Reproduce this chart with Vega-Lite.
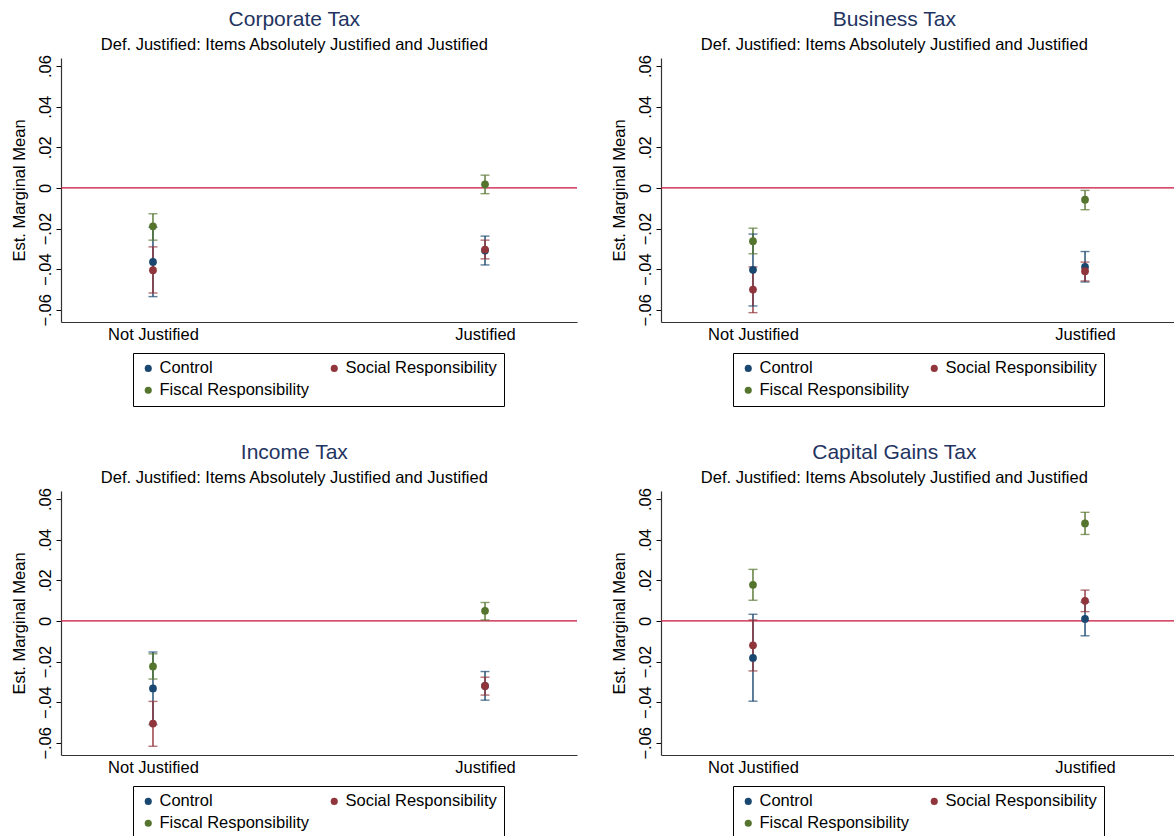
{
  "$schema": "https://vega.github.io/schema/vega-lite/v6.json",
  "background": "white",
  "padding": {"left": 10, "top": 9, "right": 5, "bottom": 5},
  "config": {
    "font": "Liberation Sans",
    "view": {"stroke": null},
    "title": {"fontSize": 21, "fontWeight": "normal", "color": "#1f3461", "subtitleFontSize": 16.5, "subtitleColor": "#000000", "subtitlePadding": 7, "anchor": "middle", "frame": "bounds", "offset": 1},
    "axis": {"labelFont": "Liberation Sans", "titleFont": "Liberation Sans"},
    "legend": {"orient": "none", "legendX": 72, "legendY": 295, "columns": 2, "direction": "horizontal", "title": null, "strokeColor": "#000000", "padding": 7, "labelFontSize": 16.5, "labelColor": "#000000", "symbolType": "circle", "symbolSize": 50, "symbolOpacity": 1, "symbolStrokeWidth": 0, "columnPadding": 17, "rowPadding": 5, "labelOffset": 3}
  },
  "spacing": {"row": 35, "column": 32},
  "datasets": {
    "est": [
      {"tax": "Corporate Tax", "justification": "Not Justified", "group": "Control", "est": -0.0364, "lo": -0.0535, "hi": -0.0193},
      {"tax": "Corporate Tax", "justification": "Not Justified", "group": "Social Responsibility", "est": -0.0405, "lo": -0.0517, "hi": -0.0290},
      {"tax": "Corporate Tax", "justification": "Not Justified", "group": "Fiscal Responsibility", "est": -0.0189, "lo": -0.0257, "hi": -0.0127},
      {"tax": "Corporate Tax", "justification": "Justified", "group": "Control", "est": -0.0308, "lo": -0.0379, "hi": -0.0237},
      {"tax": "Corporate Tax", "justification": "Justified", "group": "Social Responsibility", "est": -0.0303, "lo": -0.0349, "hi": -0.0257},
      {"tax": "Corporate Tax", "justification": "Justified", "group": "Fiscal Responsibility", "est": 0.0018, "lo": -0.0028, "hi": 0.0063},
      {"tax": "Business Tax", "justification": "Not Justified", "group": "Control", "est": -0.0403, "lo": -0.0581, "hi": -0.0227},
      {"tax": "Business Tax", "justification": "Not Justified", "group": "Social Responsibility", "est": -0.0500, "lo": -0.0614, "hi": -0.0389},
      {"tax": "Business Tax", "justification": "Not Justified", "group": "Fiscal Responsibility", "est": -0.0262, "lo": -0.0324, "hi": -0.0198},
      {"tax": "Business Tax", "justification": "Justified", "group": "Control", "est": -0.0389, "lo": -0.0463, "hi": -0.0313},
      {"tax": "Business Tax", "justification": "Justified", "group": "Social Responsibility", "est": -0.0410, "lo": -0.0458, "hi": -0.0365},
      {"tax": "Business Tax", "justification": "Justified", "group": "Fiscal Responsibility", "est": -0.0058, "lo": -0.0107, "hi": -0.0012},
      {"tax": "Income Tax", "justification": "Not Justified", "group": "Control", "est": -0.0332, "lo": -0.0510, "hi": -0.0153},
      {"tax": "Income Tax", "justification": "Not Justified", "group": "Social Responsibility", "est": -0.0505, "lo": -0.0617, "hi": -0.0396},
      {"tax": "Income Tax", "justification": "Not Justified", "group": "Fiscal Responsibility", "est": -0.0224, "lo": -0.0286, "hi": -0.0162},
      {"tax": "Income Tax", "justification": "Justified", "group": "Control", "est": -0.0320, "lo": -0.0390, "hi": -0.0249},
      {"tax": "Income Tax", "justification": "Justified", "group": "Social Responsibility", "est": -0.0320, "lo": -0.0365, "hi": -0.0277},
      {"tax": "Income Tax", "justification": "Justified", "group": "Fiscal Responsibility", "est": 0.0050, "lo": 0.0005, "hi": 0.0091},
      {"tax": "Capital Gains Tax", "justification": "Not Justified", "group": "Control", "est": -0.0182, "lo": -0.0395, "hi": 0.0033},
      {"tax": "Capital Gains Tax", "justification": "Not Justified", "group": "Social Responsibility", "est": -0.0120, "lo": -0.0246, "hi": 0.0005},
      {"tax": "Capital Gains Tax", "justification": "Not Justified", "group": "Fiscal Responsibility", "est": 0.0178, "lo": 0.0102, "hi": 0.0254},
      {"tax": "Capital Gains Tax", "justification": "Justified", "group": "Control", "est": 0.0010, "lo": -0.0073, "hi": 0.0093},
      {"tax": "Capital Gains Tax", "justification": "Justified", "group": "Social Responsibility", "est": 0.0099, "lo": 0.0046, "hi": 0.0152},
      {"tax": "Capital Gains Tax", "justification": "Justified", "group": "Fiscal Responsibility", "est": 0.0480, "lo": 0.0426, "hi": 0.0535}
    ]
  },
  "columns": 2,
  "resolve": {"scale": {"color": "independent", "x": "independent", "y": "independent"}, "legend": {"color": "independent"}},
  "concat": [
    {
      "title": {"text": "Corporate Tax", "subtitle": "Def. Justified: Items Absolutely Justified and Justified"},
      "width": 516, "height": 264,
      "data": {"name": "est"},
      "transform": [{"filter": "datum.tax === 'Corporate Tax'"}],
      "layer": [
        {"data": {"values": [{}]}, "mark": {"type": "rule", "color": "#c8103c", "strokeWidth": 1.3}, "encoding": {"y": {"datum": 0, "type": "quantitative", "scale": {"domain": [-0.066, 0.064], "nice": false, "zero": false}}}},
        {"mark": {"type": "rule", "strokeWidth": 1.4}, "encoding": {"x": {"field": "justification", "type": "nominal", "sort": ["Not Justified", "Justified"], "scale": {"type": "point", "padding": 0.277}}, "y": {"field": "lo", "type": "quantitative"}, "y2": {"field": "hi"}, "color": {"field": "group", "type": "nominal", "scale": {"domain": ["Control", "Social Responsibility", "Fiscal Responsibility"], "range": ["#1a476f", "#90353b", "#55752f"]}}}},
        {"mark": {"type": "tick", "size": 9, "thickness": 1.4}, "encoding": {"x": {"field": "justification", "type": "nominal", "sort": ["Not Justified", "Justified"]}, "y": {"field": "lo", "type": "quantitative"}, "color": {"field": "group", "type": "nominal", "scale": {"domain": ["Control", "Social Responsibility", "Fiscal Responsibility"], "range": ["#1a476f", "#90353b", "#55752f"]}}}},
        {"mark": {"type": "tick", "size": 9, "thickness": 1.4}, "encoding": {"x": {"field": "justification", "type": "nominal", "sort": ["Not Justified", "Justified"]}, "y": {"field": "hi", "type": "quantitative"}, "color": {"field": "group", "type": "nominal", "scale": {"domain": ["Control", "Social Responsibility", "Fiscal Responsibility"], "range": ["#1a476f", "#90353b", "#55752f"]}}}},
        {"mark": {"type": "point", "filled": true, "size": 60, "opacity": 1, "shape": "circle"},
         "encoding": {
           "x": {"field": "justification", "type": "nominal", "sort": ["Not Justified", "Justified"], "title": null,
                 "axis": {"labelAngle": 0, "labelAlign": "center", "labelBaseline": "top", "labelFontSize": 16.5, "labelColor": "#000000", "ticks": false, "grid": false, "domainColor": "#333333", "domainWidth": 1.2, "labelPadding": 4}},
           "y": {"field": "est", "type": "quantitative", "title": "Est. Marginal Mean",
                 "axis": {"values": [-0.06, -0.04, -0.02, 0, 0.02, 0.04, 0.06], "labelExpr": "datum.value == 0 ? '0' : replace(format(datum.value, '.2f'), '0.', '.')", "labelAngle": 270, "labelAlign": "center", "labelBaseline": "bottom", "labelFontSize": 16.5, "labelColor": "#000000", "labelPadding": 3, "tickSize": 5, "tickColor": "#000000", "domainColor": "#333333", "domainWidth": 1.2, "gridColor": "#eaf2f3", "gridWidth": 1.2, "titleFontSize": 16.5, "titleFontWeight": "normal", "titleColor": "#000000", "titlePadding": 10}},
           "color": {"field": "group", "type": "nominal", "scale": {"domain": ["Control", "Social Responsibility", "Fiscal Responsibility"], "range": ["#1a476f", "#90353b", "#55752f"]},
                     "legend": {"encode": {"symbols": {"update": {"opacity": {"value": 1}, "fillOpacity": {"value": 1}}}}}}
         }}
      ]
    },
    {
      "title": {"text": "Business Tax", "subtitle": "Def. Justified: Items Absolutely Justified and Justified"},
      "width": 516, "height": 264,
      "data": {"name": "est"},
      "transform": [{"filter": "datum.tax === 'Business Tax'"}],
      "layer": [
        {"data": {"values": [{}]}, "mark": {"type": "rule", "color": "#c8103c", "strokeWidth": 1.3}, "encoding": {"y": {"datum": 0, "type": "quantitative", "scale": {"domain": [-0.066, 0.064], "nice": false, "zero": false}}}},
        {"mark": {"type": "rule", "strokeWidth": 1.4}, "encoding": {"x": {"field": "justification", "type": "nominal", "sort": ["Not Justified", "Justified"], "scale": {"type": "point", "padding": 0.277}}, "y": {"field": "lo", "type": "quantitative"}, "y2": {"field": "hi"}, "color": {"field": "group", "type": "nominal", "scale": {"domain": ["Control", "Social Responsibility", "Fiscal Responsibility"], "range": ["#1a476f", "#90353b", "#55752f"]}}}},
        {"mark": {"type": "tick", "size": 9, "thickness": 1.4}, "encoding": {"x": {"field": "justification", "type": "nominal", "sort": ["Not Justified", "Justified"]}, "y": {"field": "lo", "type": "quantitative"}, "color": {"field": "group", "type": "nominal", "scale": {"domain": ["Control", "Social Responsibility", "Fiscal Responsibility"], "range": ["#1a476f", "#90353b", "#55752f"]}}}},
        {"mark": {"type": "tick", "size": 9, "thickness": 1.4}, "encoding": {"x": {"field": "justification", "type": "nominal", "sort": ["Not Justified", "Justified"]}, "y": {"field": "hi", "type": "quantitative"}, "color": {"field": "group", "type": "nominal", "scale": {"domain": ["Control", "Social Responsibility", "Fiscal Responsibility"], "range": ["#1a476f", "#90353b", "#55752f"]}}}},
        {"mark": {"type": "point", "filled": true, "size": 60, "opacity": 1, "shape": "circle"},
         "encoding": {
           "x": {"field": "justification", "type": "nominal", "sort": ["Not Justified", "Justified"], "title": null,
                 "axis": {"labelAngle": 0, "labelAlign": "center", "labelBaseline": "top", "labelFontSize": 16.5, "labelColor": "#000000", "ticks": false, "grid": false, "domainColor": "#333333", "domainWidth": 1.2, "labelPadding": 4}},
           "y": {"field": "est", "type": "quantitative", "title": "Est. Marginal Mean",
                 "axis": {"values": [-0.06, -0.04, -0.02, 0, 0.02, 0.04, 0.06], "labelExpr": "datum.value == 0 ? '0' : replace(format(datum.value, '.2f'), '0.', '.')", "labelAngle": 270, "labelAlign": "center", "labelBaseline": "bottom", "labelFontSize": 16.5, "labelColor": "#000000", "labelPadding": 3, "tickSize": 5, "tickColor": "#000000", "domainColor": "#333333", "domainWidth": 1.2, "gridColor": "#eaf2f3", "gridWidth": 1.2, "titleFontSize": 16.5, "titleFontWeight": "normal", "titleColor": "#000000", "titlePadding": 10}},
           "color": {"field": "group", "type": "nominal", "scale": {"domain": ["Control", "Social Responsibility", "Fiscal Responsibility"], "range": ["#1a476f", "#90353b", "#55752f"]},
                     "legend": {"encode": {"symbols": {"update": {"opacity": {"value": 1}, "fillOpacity": {"value": 1}}}}}}
         }}
      ]
    },
    {
      "title": {"text": "Income Tax", "subtitle": "Def. Justified: Items Absolutely Justified and Justified"},
      "width": 516, "height": 264,
      "data": {"name": "est"},
      "transform": [{"filter": "datum.tax === 'Income Tax'"}],
      "layer": [
        {"data": {"values": [{}]}, "mark": {"type": "rule", "color": "#c8103c", "strokeWidth": 1.3}, "encoding": {"y": {"datum": 0, "type": "quantitative", "scale": {"domain": [-0.066, 0.064], "nice": false, "zero": false}}}},
        {"mark": {"type": "rule", "strokeWidth": 1.4}, "encoding": {"x": {"field": "justification", "type": "nominal", "sort": ["Not Justified", "Justified"], "scale": {"type": "point", "padding": 0.277}}, "y": {"field": "lo", "type": "quantitative"}, "y2": {"field": "hi"}, "color": {"field": "group", "type": "nominal", "scale": {"domain": ["Control", "Social Responsibility", "Fiscal Responsibility"], "range": ["#1a476f", "#90353b", "#55752f"]}}}},
        {"mark": {"type": "tick", "size": 9, "thickness": 1.4}, "encoding": {"x": {"field": "justification", "type": "nominal", "sort": ["Not Justified", "Justified"]}, "y": {"field": "lo", "type": "quantitative"}, "color": {"field": "group", "type": "nominal", "scale": {"domain": ["Control", "Social Responsibility", "Fiscal Responsibility"], "range": ["#1a476f", "#90353b", "#55752f"]}}}},
        {"mark": {"type": "tick", "size": 9, "thickness": 1.4}, "encoding": {"x": {"field": "justification", "type": "nominal", "sort": ["Not Justified", "Justified"]}, "y": {"field": "hi", "type": "quantitative"}, "color": {"field": "group", "type": "nominal", "scale": {"domain": ["Control", "Social Responsibility", "Fiscal Responsibility"], "range": ["#1a476f", "#90353b", "#55752f"]}}}},
        {"mark": {"type": "point", "filled": true, "size": 60, "opacity": 1, "shape": "circle"},
         "encoding": {
           "x": {"field": "justification", "type": "nominal", "sort": ["Not Justified", "Justified"], "title": null,
                 "axis": {"labelAngle": 0, "labelAlign": "center", "labelBaseline": "top", "labelFontSize": 16.5, "labelColor": "#000000", "ticks": false, "grid": false, "domainColor": "#333333", "domainWidth": 1.2, "labelPadding": 4}},
           "y": {"field": "est", "type": "quantitative", "title": "Est. Marginal Mean",
                 "axis": {"values": [-0.06, -0.04, -0.02, 0, 0.02, 0.04, 0.06], "labelExpr": "datum.value == 0 ? '0' : replace(format(datum.value, '.2f'), '0.', '.')", "labelAngle": 270, "labelAlign": "center", "labelBaseline": "bottom", "labelFontSize": 16.5, "labelColor": "#000000", "labelPadding": 3, "tickSize": 5, "tickColor": "#000000", "domainColor": "#333333", "domainWidth": 1.2, "gridColor": "#eaf2f3", "gridWidth": 1.2, "titleFontSize": 16.5, "titleFontWeight": "normal", "titleColor": "#000000", "titlePadding": 10}},
           "color": {"field": "group", "type": "nominal", "scale": {"domain": ["Control", "Social Responsibility", "Fiscal Responsibility"], "range": ["#1a476f", "#90353b", "#55752f"]},
                     "legend": {"encode": {"symbols": {"update": {"opacity": {"value": 1}, "fillOpacity": {"value": 1}}}}}}
         }}
      ]
    },
    {
      "title": {"text": "Capital Gains Tax", "subtitle": "Def. Justified: Items Absolutely Justified and Justified"},
      "width": 516, "height": 264,
      "data": {"name": "est"},
      "transform": [{"filter": "datum.tax === 'Capital Gains Tax'"}],
      "layer": [
        {"data": {"values": [{}]}, "mark": {"type": "rule", "color": "#c8103c", "strokeWidth": 1.3}, "encoding": {"y": {"datum": 0, "type": "quantitative", "scale": {"domain": [-0.066, 0.064], "nice": false, "zero": false}}}},
        {"mark": {"type": "rule", "strokeWidth": 1.4}, "encoding": {"x": {"field": "justification", "type": "nominal", "sort": ["Not Justified", "Justified"], "scale": {"type": "point", "padding": 0.277}}, "y": {"field": "lo", "type": "quantitative"}, "y2": {"field": "hi"}, "color": {"field": "group", "type": "nominal", "scale": {"domain": ["Control", "Social Responsibility", "Fiscal Responsibility"], "range": ["#1a476f", "#90353b", "#55752f"]}}}},
        {"mark": {"type": "tick", "size": 9, "thickness": 1.4}, "encoding": {"x": {"field": "justification", "type": "nominal", "sort": ["Not Justified", "Justified"]}, "y": {"field": "lo", "type": "quantitative"}, "color": {"field": "group", "type": "nominal", "scale": {"domain": ["Control", "Social Responsibility", "Fiscal Responsibility"], "range": ["#1a476f", "#90353b", "#55752f"]}}}},
        {"mark": {"type": "tick", "size": 9, "thickness": 1.4}, "encoding": {"x": {"field": "justification", "type": "nominal", "sort": ["Not Justified", "Justified"]}, "y": {"field": "hi", "type": "quantitative"}, "color": {"field": "group", "type": "nominal", "scale": {"domain": ["Control", "Social Responsibility", "Fiscal Responsibility"], "range": ["#1a476f", "#90353b", "#55752f"]}}}},
        {"mark": {"type": "point", "filled": true, "size": 60, "opacity": 1, "shape": "circle"},
         "encoding": {
           "x": {"field": "justification", "type": "nominal", "sort": ["Not Justified", "Justified"], "title": null,
                 "axis": {"labelAngle": 0, "labelAlign": "center", "labelBaseline": "top", "labelFontSize": 16.5, "labelColor": "#000000", "ticks": false, "grid": false, "domainColor": "#333333", "domainWidth": 1.2, "labelPadding": 4}},
           "y": {"field": "est", "type": "quantitative", "title": "Est. Marginal Mean",
                 "axis": {"values": [-0.06, -0.04, -0.02, 0, 0.02, 0.04, 0.06], "labelExpr": "datum.value == 0 ? '0' : replace(format(datum.value, '.2f'), '0.', '.')", "labelAngle": 270, "labelAlign": "center", "labelBaseline": "bottom", "labelFontSize": 16.5, "labelColor": "#000000", "labelPadding": 3, "tickSize": 5, "tickColor": "#000000", "domainColor": "#333333", "domainWidth": 1.2, "gridColor": "#eaf2f3", "gridWidth": 1.2, "titleFontSize": 16.5, "titleFontWeight": "normal", "titleColor": "#000000", "titlePadding": 10}},
           "color": {"field": "group", "type": "nominal", "scale": {"domain": ["Control", "Social Responsibility", "Fiscal Responsibility"], "range": ["#1a476f", "#90353b", "#55752f"]},
                     "legend": {"encode": {"symbols": {"update": {"opacity": {"value": 1}, "fillOpacity": {"value": 1}}}}}}
         }}
      ]
    }
  ]
}
